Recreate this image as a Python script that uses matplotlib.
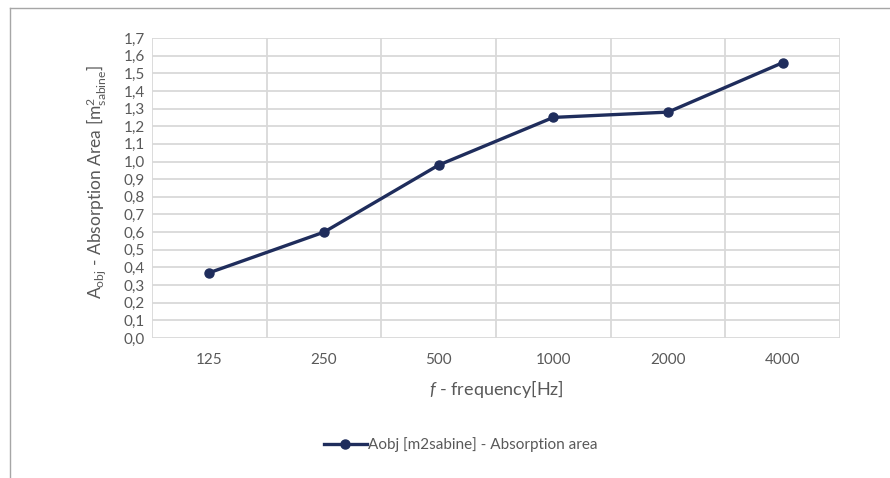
import matplotlib
matplotlib.use("Agg")
import matplotlib.pyplot as plt
from matplotlib.lines import Line2D

categories = ["125", "250", "500", "1000", "2000", "4000"]
values = [0.37, 0.60, 0.98, 1.25, 1.28, 1.56]
y_ticks = [i / 10 for i in range(0, 18)]
y_tick_labels = [f"{t:.1f}".replace(".", ",") for t in y_ticks]
series_label = "Aobj [m2sabine] - Absorption area"

plt.rcParams['font.family'] = ['Lato', 'DejaVu Sans']
plt.rcParams['mathtext.fontset'] = 'custom'
plt.rcParams['mathtext.rm'] = 'Lato'
plt.rcParams['mathtext.it'] = 'Lato:italic'

text_col = "#595959"
grid_col = "#D9D9D9"
line_col = "#1F2D5C"

fig = plt.figure(figsize=(8.9, 4.78), dpi=100)
ax = fig.add_axes([152/890, 1-338/478, (840-152)/890, 300/478])

x = list(range(len(categories)))
ax.plot(x, values, color=line_col, lw=2.4, marker='o', markersize=6.5,
        markerfacecolor=line_col, markeredgecolor=line_col, label=series_label,
        zorder=3, solid_capstyle='round')

ax.set_xlim(-0.5, len(categories) - 0.5)
ax.set_ylim(0, 1.7)
ax.set_yticks(y_ticks)
ax.set_yticklabels(y_tick_labels)
ax.set_xticks(x)
ax.set_xticklabels(categories)
ax.set_xticks([i - 0.5 for i in range(len(categories) + 1)], minor=True)

ax.grid(axis='y', which='major', color=grid_col, lw=1.3)
ax.grid(axis='x', which='minor', color=grid_col, lw=1.3)
ax.grid(axis='x', which='major', visible=False)
ax.tick_params(axis='both', which='both', length=0, colors=text_col, labelsize=11)
ax.tick_params(axis='x', pad=11)
ax.tick_params(axis='y', pad=5)
for s in ax.spines.values():
    s.set_visible(False)
ax.set_axisbelow(True)

ax.set_ylabel(r'A$_{\mathrm{obj}}$ - Absorption Area [m$^{2}_{\mathrm{sabine}}$]',
              color=text_col, fontsize=12.5)
ax.yaxis.set_label_coords(-0.062, 0.52)
ax.set_xlabel(r'$\mathit{f}$ - frequency[Hz]', color=text_col, fontsize=13, labelpad=8)

leg = fig.legend(handles=[Line2D([0], [0], color=line_col, lw=2.4, marker='o',
                                 markersize=6.5)],
                 labels=[series_label], loc='center', bbox_to_anchor=(461/890, 1-445/478),
                 frameon=False, fontsize=11, handlelength=2.8, handletextpad=0.1)
for t in leg.get_texts():
    t.set_color(text_col)

# outer chart border (left and top visible)
fig.add_artist(Line2D([10/890, 10/890], [0, 1-8/478], color="#A6A6A6", lw=1.0,
                      transform=fig.transFigure))
fig.add_artist(Line2D([10/890, 1], [1-8/478, 1-8/478], color="#A6A6A6", lw=1.0,
                      transform=fig.transFigure))

fig.savefig("out.png", dpi=100)
